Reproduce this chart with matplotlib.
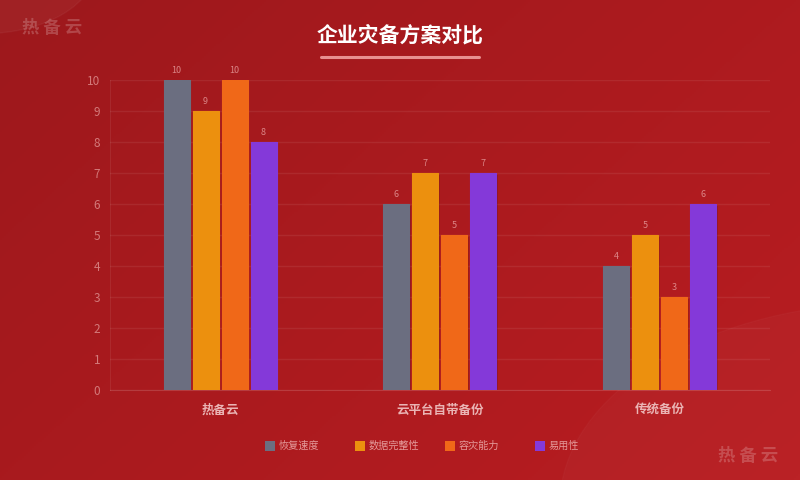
import numpy as np
import matplotlib
matplotlib.use("Agg")
import matplotlib.pyplot as plt
from matplotlib.patches import Circle, Rectangle

plt.rcParams['font.family'] = ['Noto Sans CJK SC', 'DejaVu Sans']

categories = ["热备云", "云平台自带备份", "传统备份"]
series = ["恢复速度", "数据完整性", "容灾能力", "易用性"]
recovery = [10, 6, 4]
integrity = [9, 7, 5]
disaster = [10, 5, 3]
usability = [8, 7, 6]
colors = ["#6b6e80", "#ec900e", "#f06818", "#8439d9"]
values = [recovery, integrity, disaster, usability]

fig = plt.figure(figsize=(8, 4.8), dpi=100)

# background gradient
bg = fig.add_axes([0, 0, 1, 1])
yy, xx = np.mgrid[0:1:240j, 0:1:400j]
grad = (xx * 0.6 + yy * 0.4)
bg.imshow(grad, cmap=matplotlib.colors.LinearSegmentedColormap.from_list("r", ["#9d181c", "#b91d21"]),
          extent=[0, 1, 0, 1], aspect="auto", origin="upper")
bg.add_patch(Circle((-0.02, 1.07), 0.14, transform=bg.transAxes, color="white", alpha=0.04))
bg.add_patch(Circle((1.12, -0.05), 0.42, transform=bg.transAxes, color="white", alpha=0.025))
bg.set_xlim(0, 1)
bg.set_ylim(0, 1)
bg.axis("off")

ax = fig.add_axes([110 / 800, 1 - 390 / 480, 660 / 800, 310 / 480])
ax.set_facecolor("none")
x = np.arange(len(categories)) + 0.5
step = 29 / 220
width = 26 / 220
for i, (name, vals) in enumerate(zip(series, values)):
    pos = x + (i - 1.5) * step
    ax.bar(pos + 0.008, vals, width, bottom=-0.05, color="black", alpha=0.12, zorder=2)
    ax.bar(pos, vals, width, color=colors[i], edgecolor=colors[i], linewidth=0.8,
           joinstyle="round", zorder=3)
    for p, v in zip(pos, vals):
        ax.text(p, v + 0.15, str(v), ha="center", va="bottom", fontsize=6.5,
                color="#e8a0a0", alpha=0.8)

ax.set_xlim(0, 3)
ax.set_ylim(0, 10)
ax.set_yticks(range(0, 11))
ax.tick_params(axis="y", length=0, colors="#d37a7a", labelsize=8.5, pad=7)
ax.tick_params(axis="x", length=0)
ax.set_xticks(x)
ax.set_xticklabels(categories, fontsize=9, fontweight="bold", color="#eab4b4")
ax.tick_params(axis="x", pad=10)
ax.grid(axis="y", color="white", alpha=0.07, linewidth=1, zorder=0)
for s in ["top", "right"]:
    ax.spines[s].set_visible(False)
ax.spines["left"].set_color((1, 1, 1, 0.07))
ax.spines["bottom"].set_color((1, 1, 1, 0.15))

# title
fig.text(0.5, 1 - 35 / 480, "企业灾备方案对比", ha="center", va="center", fontsize=15,
         fontweight="bold", color="white")
fig.add_artist(plt.Line2D([321 / 800, 479 / 800], [1 - 57 / 480] * 2, color="#e89090",
                          linewidth=2.2, solid_capstyle="round"))

# watermarks
fig.text(22 / 800, 1 - 28 / 480, "热 备 云", ha="left", va="center", fontsize=12.5,
         fontweight="bold", color="white", alpha=0.2)
fig.text(778 / 800, 1 - 456 / 480, "热 备 云", ha="right", va="center", fontsize=12.5,
         fontweight="bold", color="white", alpha=0.2)

# legend, evenly spaced items
for i, name in enumerate(series):
    lx = (265 + 90 * i) / 800
    fig.add_artist(Rectangle((lx, 1 - 451 / 480), 10 / 800, 10 / 480, transform=fig.transFigure,
                             facecolor=colors[i], edgecolor="none"))
    fig.text(lx + 14 / 800, 1 - 446 / 480, name, ha="left", va="center", fontsize=7.3,
             color="#e49a9a")

fig.savefig("out.png", dpi=100)
